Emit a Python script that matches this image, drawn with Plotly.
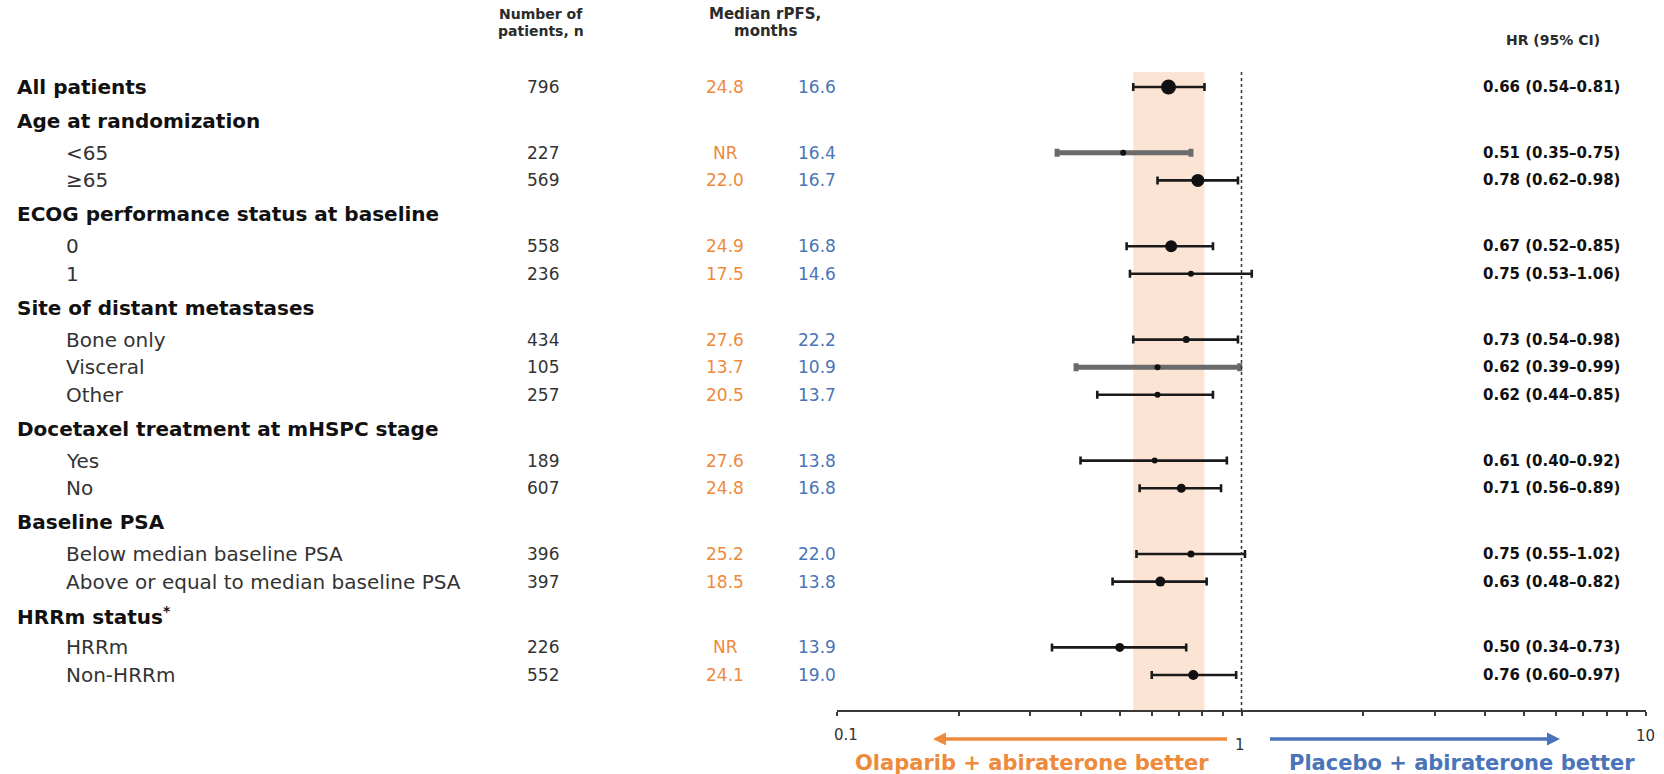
import plotly.graph_objects as go

# ---- data -------------------------------------------------------------
labels = [
    "All patients", "Age at randomization", "&lt;65", "≥65",
    "ECOG performance status at baseline", "0", "1",
    "Site of distant metastases", "Bone only", "Visceral", "Other",
    "Docetaxel treatment at mHSPC stage", "Yes", "No",
    "Baseline PSA", "Below median baseline PSA",
    "Above or equal to median baseline PSA",
    "HRRm status<sup>*</sup>", "HRRm", "Non-HRRm",
]
is_header = [True, True, False, False, True, False, False, True, False, False,
             False, True, False, False, True, False, False, True, False, False]
n_patients = ["796", "", "227", "569", "", "558", "236", "", "434", "105",
              "257", "", "189", "607", "", "396", "397", "", "226", "552"]
rpfs_olaparib = ["24.8", "", "NR", "22.0", "", "24.9", "17.5", "", "27.6", "13.7",
                 "20.5", "", "27.6", "24.8", "", "25.2", "18.5", "", "NR", "24.1"]
rpfs_placebo = ["16.6", "", "16.4", "16.7", "", "16.8", "14.6", "", "22.2", "10.9",
                "13.7", "", "13.8", "16.8", "", "22.0", "13.8", "", "13.9", "19.0"]
hr = [0.66, None, 0.51, 0.78, None, 0.67, 0.75, None, 0.73, 0.62,
      0.62, None, 0.61, 0.71, None, 0.75, 0.63, None, 0.50, 0.76]
ci_low = [0.54, None, 0.35, 0.62, None, 0.52, 0.53, None, 0.54, 0.39,
          0.44, None, 0.40, 0.56, None, 0.55, 0.48, None, 0.34, 0.60]
ci_high = [0.81, None, 0.75, 0.98, None, 0.85, 1.06, None, 0.98, 0.99,
           0.85, None, 0.92, 0.89, None, 1.02, 0.82, None, 0.73, 0.97]

# ---- styling ----------------------------------------------------------
W, H = 1664, 774
ORANGE = "#EE8A3C"
BLUE = "#4A74B8"
TXT = "#2b2b2b"
FONT = "DejaVu Sans"

# marker diameter per row (px) and rows whose whisker is drawn in grey
marker_px = [15, 0, 6, 13, 0, 12, 6, 0, 7, 6, 6, 0, 6, 9, 0, 7, 10, 0, 9, 10]
grey_rows = {2, 9}

# vertical layout of the rows (pixel positions from the top)
ROW_TOP = 87
STEP_TO_HEADER, STEP_AFTER_HEADER, STEP_SUB = 34, 31.8, 27.6
row_y = [ROW_TOP]
for i in range(1, len(labels)):
    if is_header[i]:
        step = STEP_TO_HEADER
    elif is_header[i - 1]:
        step = STEP_AFTER_HEADER
    else:
        step = STEP_SUB
    row_y.append(row_y[-1] + step)

AXIS_Y = 710          # pixel row of the HR axis line
X_LEFT, X_RIGHT = 837, 1646   # pixel span of 0.1 .. 10


def px(x):
    return x / W


def py(y):
    return 1 - y / H


fig = go.Figure()

# whiskers + point estimates
for i in range(len(labels)):
    if hr[i] is None:
        continue
    grey = i in grey_rows
    fig.add_trace(go.Scatter(
        x=[hr[i]], y=[row_y[i]], mode="markers",
        marker=dict(size=marker_px[i], color="#111111", line=dict(width=0)),
        error_x=dict(type="data", symmetric=False,
                     array=[ci_high[i] - hr[i]], arrayminus=[hr[i] - ci_low[i]],
                     color="#6a6a6a" if grey else "#1a1a1a",
                     thickness=5 if grey else 2.6, width=4),
        showlegend=False, hoverinfo="skip", cliponaxis=False,
    ))

shapes = [
    # shaded band spanning the overall CI
    dict(type="rect", xref="x", yref="y", x0=ci_low[0], x1=ci_high[0],
         y0=72, y1=AXIS_Y, fillcolor="#FCE4D4", line=dict(width=0), layer="below"),
    # line of no effect
    dict(type="line", xref="x", yref="y", x0=1, x1=1, y0=72, y1=AXIS_Y,
         line=dict(color="#333333", width=1.5, dash="dot"), layer="above"),
]


def arrow(x_tail, x_head, y, color, width=3.5, head_len=13, head_half=6.5):
    """Horizontal arrow drawn in paper coordinates."""
    d = 1 if x_head > x_tail else -1
    base = x_head - d * head_len
    shapes.append(dict(type="line", xref="paper", yref="paper",
                       x0=px(x_tail), x1=px(base), y0=py(y), y1=py(y),
                       line=dict(color=color, width=width)))
    path = (f"M {px(x_head)},{py(y)} L {px(base)},{py(y - head_half)} "
            f"L {px(base)},{py(y + head_half)} Z")
    shapes.append(dict(type="path", xref="paper", yref="paper", path=path,
                       fillcolor=color, line=dict(width=0)))


arrow(1227, 933, 739, ORANGE)
arrow(1270, 1560, 739, BLUE)

ann = []


def text(x, y, s, size=18, color=TXT, bold=False, anchor="center"):
    ann.append(dict(xref="paper", yref="paper", x=px(x), y=py(y), text=s,
                    showarrow=False, xanchor=anchor, yanchor="middle",
                    font=dict(family=FONT, size=size, color=color,
                              weight="bold" if bold else "normal")))


# column headers
text(541, 14, "Number of", 14, TXT, True)
text(541, 31, "patients, n", 14, TXT, True)
text(765, 14, "Median rPFS,", 15, TXT, True)
text(765, 31, "months", 15, TXT, True)
text(1553, 40, "HR (95% CI)", 14, TXT, True)

# table rows
for i, lab in enumerate(labels):
    yy = row_y[i]
    if is_header[i]:
        text(15, yy, lab, 20, "#111111", True, "left")
    else:
        text(64, yy, lab, 20, "#333333", False, "left")
    if n_patients[i]:
        text(543, yy, n_patients[i], 17, "#333333")
        text(725, yy, rpfs_olaparib[i], 17, ORANGE)
        text(817, yy, rpfs_placebo[i], 17, BLUE)
        text(1551, yy, f"{hr[i]:.2f} ({ci_low[i]:.2f}–{ci_high[i]:.2f})",
             15, "#111111", True)

# axis labels
text(846, 735, "0.1", 15, "#333333")
text(1240, 745, "1", 15, "#333333")
text(1645, 736, "10", 15, "#333333")

# direction labels
text(1032, 763, "Olaparib + abiraterone better", 21, ORANGE, True)
text(1462, 763, "Placebo + abiraterone better", 21, BLUE, True)

tick_vals = [0.1, 0.2, 0.3, 0.4, 0.5, 0.6, 0.7, 0.8, 0.9, 1,
             2, 3, 4, 5, 6, 7, 8, 9, 10]

fig.update_layout(
    width=W, height=H, autosize=False,
    margin=dict(l=0, r=0, t=0, b=0),
    paper_bgcolor="white", plot_bgcolor="rgba(0,0,0,0)",
    shapes=shapes, annotations=ann,
    xaxis=dict(type="log", range=[-1, 1], domain=[px(X_LEFT), px(X_RIGHT)],
               showgrid=False, zeroline=False, showline=True,
               linecolor="#3a3a3a", linewidth=2,
               tickmode="array", tickvals=tick_vals, showticklabels=False,
               ticks="outside", ticklen=4, tickwidth=1.5, tickcolor="#3a3a3a"),
    yaxis=dict(range=[AXIS_Y, 0], domain=[py(AXIS_Y), 1], visible=False,
               showgrid=False, zeroline=False),
)

fig.write_html("out.html")
